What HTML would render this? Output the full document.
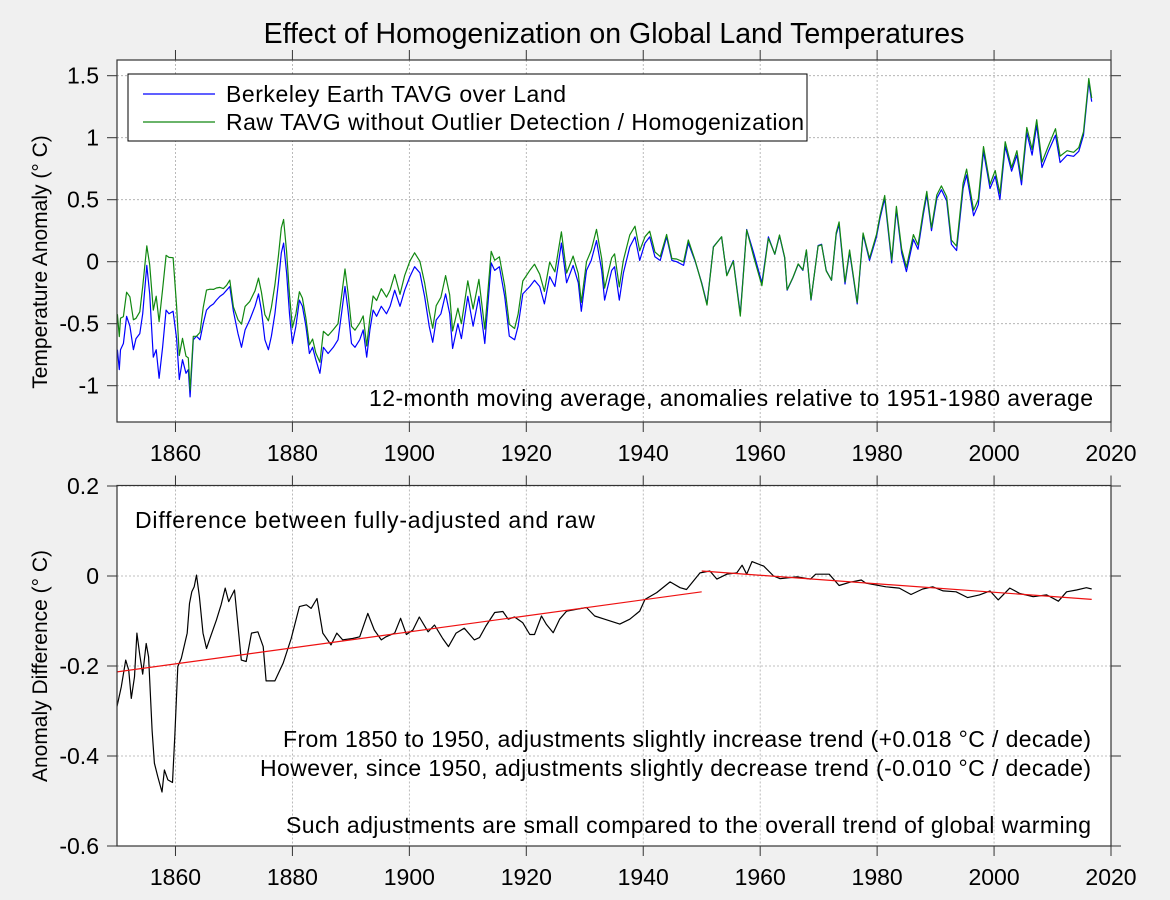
<!DOCTYPE html>
<html><head><meta charset="utf-8"><style>
body{margin:0;background:#f0f0f0;font-family:"Liberation Sans",sans-serif;}
svg{display:block}
text{font-family:"Liberation Sans",sans-serif;fill:#000}
</style></head><body>
<svg id="chart" width="1170" height="900">
<rect width="1170" height="900" fill="#f0f0f0"/>
<text x="614" y="43" font-size="28.5" text-anchor="middle">Effect of Homogenization on Global Land Temperatures</text>
<g id="top"></g>
<g id="bot"></g>
<text transform="translate(47,262) rotate(-90)" font-size="21" text-anchor="middle">Temperature Anomaly (° C)</text>
<text transform="translate(47,666) rotate(-90)" font-size="21" text-anchor="middle">Anomaly Difference (° C)</text>
</svg>
<script>
const blueYears=[1850.06,1850.4,1850.6,1851.1,1851.65,1852.2,1852.8,1853.25,1853.9,1854.4,1855.1,1855.6,1856.2,1856.7,1857.2,1857.8,1858.4,1858.9,1859.6,1860.2,1860.65,1861.2,1861.8,1862.2,1862.5,1863.05,1863.6,1864.2,1864.75,1865.3,1865.9,1866.5,1867.0,1867.6,1868.2,1868.75,1869.3,1869.9,1870.7,1871.3,1871.9,1872.7,1873.6,1874.2,1874.7,1875.3,1875.9,1876.4,1877.0,1877.6,1878.1,1878.5,1879.0,1879.5,1880.0,1880.6,1881.2,1881.7,1882.3,1882.9,1883.45,1884.0,1884.7,1885.3,1886.1,1887.0,1887.8,1888.4,1889.0,1889.5,1890.1,1890.7,1891.5,1892.1,1892.7,1893.25,1893.8,1894.4,1895.2,1896.1,1896.7,1897.5,1898.4,1899.2,1900.1,1900.9,1901.8,1902.6,1903.4,1904,1904.6,1905.4,1906.2,1906.9,1907.4,1908.3,1908.9,1910,1910.9,1911.9,1912.9,1914,1914.6,1915.4,1916.3,1917.1,1918,1918.6,1919.4,1920.6,1921.4,1922.3,1923.1,1924,1924.9,1926,1926.9,1928,1928.9,1929.4,1930.3,1931.1,1932,1932.9,1933.4,1934.6,1935.1,1935.9,1936.6,1937.7,1938.6,1939.4,1940.3,1941.1,1942,1942.9,1944,1944.9,1945.7,1946.9,1947.7,1948.9,1950,1950.9,1952,1953.4,1954.3,1955.4,1956.6,1957.7,1958.9,1960.3,1961.4,1962.5,1963.3,1964.2,1964.6,1965.6,1966.5,1967.3,1967.9,1968.7,1969.9,1970.5,1971.3,1972.2,1973,1973.5,1974.5,1975.3,1976.6,1977.6,1978.7,1979.9,1980.5,1981.3,1982.5,1983.3,1984.2,1985,1986.2,1987,1987.9,1988.5,1989.3,1990.2,1991,1991.9,1992.7,1993.6,1994.7,1995.3,1996.5,1997.3,1998.2,1999.3,2000.2,2001,2001.9,2003,2003.9,2004.7,2005.6,2006.5,2007.3,2008.2,2009.3,2010.5,2011.3,2012.5,2013.6,2014.5,2015.3,2016.2,2016.7];
const blueVals=[-0.71,-0.87,-0.71,-0.66,-0.44,-0.52,-0.71,-0.62,-0.58,-0.42,-0.03,-0.26,-0.77,-0.71,-0.94,-0.69,-0.39,-0.42,-0.40,-0.62,-0.95,-0.79,-0.90,-0.87,-1.09,-0.63,-0.60,-0.63,-0.50,-0.39,-0.36,-0.34,-0.31,-0.28,-0.26,-0.23,-0.20,-0.40,-0.58,-0.69,-0.55,-0.47,-0.36,-0.26,-0.39,-0.63,-0.71,-0.60,-0.42,-0.17,0.07,0.15,-0.09,-0.42,-0.66,-0.52,-0.31,-0.36,-0.52,-0.74,-0.69,-0.79,-0.90,-0.69,-0.74,-0.69,-0.63,-0.42,-0.20,-0.39,-0.66,-0.69,-0.63,-0.55,-0.77,-0.55,-0.39,-0.44,-0.36,-0.42,-0.36,-0.23,-0.36,-0.23,-0.12,-0.04,-0.09,-0.28,-0.52,-0.65,-0.47,-0.42,-0.26,-0.42,-0.70,-0.50,-0.62,-0.28,-0.52,-0.28,-0.66,-0.01,-0.07,-0.04,-0.28,-0.60,-0.63,-0.52,-0.26,-0.20,-0.15,-0.20,-0.34,-0.12,-0.20,0.15,-0.17,-0.03,-0.17,-0.40,-0.07,0.01,0.17,-0.07,-0.31,-0.07,-0.04,-0.31,-0.09,0.12,0.20,0.01,0.15,0.20,0.04,0.01,0.20,0.01,0.00,-0.03,0.15,0.00,-0.17,-0.34,0.12,0.20,-0.11,0.01,-0.42,0.26,0.07,-0.17,0.20,0.06,0.21,0.03,-0.23,-0.13,-0.02,-0.07,0.09,-0.31,0.13,0.14,-0.07,-0.15,0.22,0.30,-0.18,0.08,-0.34,0.22,0.01,0.20,0.35,0.51,-0.01,0.42,0.07,-0.08,0.18,0.10,0.38,0.54,0.25,0.51,0.58,0.49,0.14,0.09,0.59,0.70,0.37,0.46,0.89,0.59,0.69,0.50,0.93,0.73,0.86,0.62,1.04,0.86,1.10,0.76,0.89,1.02,0.80,0.86,0.85,0.89,1.02,1.45,1.29];
const diffYears=[1850.0,1850.74,1851.48,1852.0,1852.45,1853.0,1853.4,1853.9,1854.4,1855.0,1855.4,1856.0,1856.4,1857.0,1857.7,1858.1,1858.7,1859.5,1859.9,1860.4,1861.0,1862.0,1862.4,1862.8,1863.2,1863.6,1864.1,1864.7,1865.3,1865.8,1867.0,1867.8,1868.5,1869.1,1870.1,1871.25,1872.1,1873.0,1874.1,1875.0,1875.5,1877.0,1878.4,1879.8,1881.2,1882.4,1883.2,1884.2,1885.2,1886.6,1887.6,1888.6,1890.3,1891.5,1892.9,1894.0,1895.2,1896.0,1897.5,1898.5,1899.5,1900.6,1901.7,1903.2,1904.3,1905.7,1906.7,1908.0,1909.4,1911.1,1912,1913.1,1914.6,1916,1916.9,1918,1919.4,1920.6,1921.4,1922.6,1923.4,1924.6,1925.7,1926.9,1928.6,1930.3,1931.7,1933.4,1936,1937.7,1939.4,1940.3,1942.3,1944.6,1946.3,1947.4,1949.7,1951.4,1952.6,1954.3,1956,1956.9,1957.7,1958.6,1960.6,1962.3,1963.4,1966.3,1968.6,1969.5,1971.8,1973.5,1975.3,1977.3,1978.1,1981.5,1983.8,1985.8,1987.8,1989.5,1991.3,1993.5,1995.5,1997.5,1999.3,2000.7,2002.7,2004.4,2006.7,2009,2011,2012.4,2014.1,2015.8,2016.7];
const diffVals=[-0.29,-0.246,-0.187,-0.209,-0.272,-0.224,-0.127,-0.176,-0.218,-0.15,-0.18,-0.343,-0.416,-0.447,-0.48,-0.431,-0.453,-0.459,-0.351,-0.201,-0.183,-0.127,-0.061,-0.035,-0.024,0.002,-0.046,-0.127,-0.161,-0.142,-0.098,-0.064,-0.027,-0.057,-0.031,-0.187,-0.19,-0.127,-0.124,-0.157,-0.233,-0.233,-0.194,-0.139,-0.068,-0.064,-0.072,-0.05,-0.127,-0.153,-0.127,-0.142,-0.139,-0.135,-0.083,-0.12,-0.142,-0.135,-0.127,-0.094,-0.13,-0.12,-0.091,-0.124,-0.109,-0.139,-0.157,-0.127,-0.116,-0.142,-0.137,-0.111,-0.081,-0.079,-0.096,-0.091,-0.104,-0.13,-0.13,-0.089,-0.107,-0.126,-0.096,-0.078,-0.074,-0.07,-0.089,-0.096,-0.107,-0.096,-0.078,-0.052,-0.037,-0.013,-0.026,-0.03,0.007,0.011,-0.007,0.004,0.007,0.024,0.004,0.032,0.022,0.0,-0.006,-0.002,-0.007,0.004,0.004,-0.021,-0.014,-0.009,-0.016,-0.024,-0.027,-0.041,-0.029,-0.024,-0.033,-0.035,-0.048,-0.042,-0.033,-0.053,-0.027,-0.039,-0.046,-0.042,-0.056,-0.035,-0.031,-0.026,-0.029];
const trendYears=[1850,1950,1950,2016.7];
const trendVals=[-0.213,-0.035,0.011,-0.052];
const xTicks=[1860,1880,1900,1920,1940,1960,1980,2000,2020];
const topTicks=[1.5,1,0.5,0,-0.5,-1];
const topTickLabels=["1.5","1","0.5","0","-0.5","-1"];
const botTicks=[0.2,0,-0.2,-0.4,-0.6];
const botTickLabels=["0.2","0","-0.2","-0.4","-0.6"];

const NS="http://www.w3.org/2000/svg";
const X0=117,X1=1111;
const xs=y=>X0+(y-1850)*(X1-X0)/170;
const TOP={y0:60,y1:422,f:v=>261.7-v*124};
const BOT={y0:485.5,y1:846,f:v=>576-v*450};
function mk(tag,attrs,parent){const e=document.createElementNS(NS,tag);for(const k in attrs)e.setAttribute(k,attrs[k]);parent.appendChild(e);return e;}
function interp(xa,ya,x){if(x<=xa[0])return ya[0];for(let i=1;i<xa.length;i++){if(x<=xa[i]){const t=(x-xa[i-1])/(xa[i]-xa[i-1]);return ya[i-1]+t*(ya[i]-ya[i-1]);}}return ya[ya.length-1];}

function frame(g,P,ticks,labels,id){
  const bg=mk('rect',{x:X0,y:P.y0,width:X1-X0,height:P.y1-P.y0,fill:'#fff'},g);
  
  
  const cp=mk('clipPath',{id:id},g);
  mk('rect',{x:X0,y:P.y0,width:X1-X0,height:P.y1-P.y0},cp);
  xTicks.forEach(t=>{const x=xs(t);
    const gl=mk('line',{x1:x,x2:x,y1:P.y0,y2:P.y1,stroke:'#aaa','stroke-dasharray':'2,2','stroke-width':0.8},g);
    
    
    mk('line',{x1:x,x2:x,y1:P.y1,y2:P.y1+10,stroke:'#333'},g);
    mk('line',{x1:x,x2:x,y1:P.y0,y2:P.y0-10,stroke:'#333'},g);
    const tl=mk('text',{x:x,y:P.y1+39,'font-size':23,'text-anchor':'middle'},g);tl.textContent=t;
    
    
  });
  ticks.forEach((t,i)=>{const y=P.f(t);
    const gl=mk('line',{x1:X0,x2:X1,y1:y,y2:y,stroke:'#aaa','stroke-dasharray':'2,2','stroke-width':0.8},g);
    
    
    mk('line',{x1:X0-10,x2:X0,y1:y,y2:y,stroke:'#333'},g);
    mk('line',{x1:X1,x2:X1+10,y1:y,y2:y,stroke:'#333'},g);
    const tl=mk('text',{x:99,y:y+8,'font-size':23,'text-anchor':'end'},g);tl.textContent=labels[i];
    
    
  });
}
function path(g,xa,ya,P,color,w,clip,name){
  let d='';xa.forEach((x,i)=>{d+=(i?'L':'M')+xs(x).toFixed(1)+','+P.f(ya[i]).toFixed(1);});
  const p=mk('path',{d:d,fill:'none',stroke:color,'stroke-width':w,'clip-path':'url(#'+clip+')','stroke-linejoin':'round'},g);
  
  
  return p;
}
function border(g,P){const b=mk('rect',{x:X0,y:P.y0,width:X1-X0,height:P.y1-P.y0,fill:'none',stroke:'#333','stroke-width':1.2},g);
  
  }

const gt=document.getElementById('top');
frame(gt,TOP,topTicks,topTickLabels,'clipTop');
const greenVals=blueYears.map((y,i)=>blueVals[i]-interp(diffYears,diffVals,y));
path(gt,blueYears,blueVals,TOP,'#0000ff',1.2,'clipTop','berkeley-line');
path(gt,blueYears,greenVals,TOP,'#118811',1.2,'clipTop','raw-line');
border(gt,TOP);
const lg=mk('g',{},gt);


mk('rect',{x:128,y:74,width:679,height:67,fill:'#fff',stroke:'#000'},lg);
mk('line',{x1:143,x2:215,y1:94,y2:94,stroke:'#0000ff','stroke-width':1.2},lg);
mk('line',{x1:143,x2:215,y1:122,y2:122,stroke:'#118811','stroke-width':1.2},lg);
const l1=mk('text',{x:226,y:102,'font-size':23,textLength:340},lg);l1.textContent='Berkeley Earth TAVG over Land';


const l2=mk('text',{x:226,y:130,'font-size':23,textLength:578},lg);l2.textContent='Raw TAVG without Outlier Detection / Homogenization';


const n1=mk('text',{x:1093,y:406,'font-size':23,'text-anchor':'end',textLength:724},gt);n1.textContent='12-month moving average, anomalies relative to 1951-1980 average';



const gb=document.getElementById('bot');
frame(gb,BOT,botTicks,botTickLabels,'clipBot');
path(gb,diffYears,diffVals,BOT,'#000',1.2,'clipBot','difference-line');
path(gb,trendYears.slice(0,2),trendVals.slice(0,2),BOT,'#ee1111',1.2,'clipBot','trend-1850-1950');
path(gb,trendYears.slice(2),trendVals.slice(2),BOT,'#ee1111',1.2,'clipBot','trend-since-1950');
border(gb,BOT);
const notes=[[135,528,'start','Difference between fully-adjusted and raw',460],[1091,747,'end','From 1850 to 1950, adjustments slightly increase trend (+0.018 °C / decade)',808],[1091,776,'end','However, since 1950, adjustments slightly decrease trend (-0.010 °C / decade)',831],[1091,833,'end','Such adjustments are small compared to the overall trend of global warming',805]];
notes.forEach(n=>{const t=mk('text',{x:n[0],y:n[1],'font-size':23,'text-anchor':n[2],textLength:n[4]},gb);t.textContent=n[3];
  
  });
</script>
</body></html>
